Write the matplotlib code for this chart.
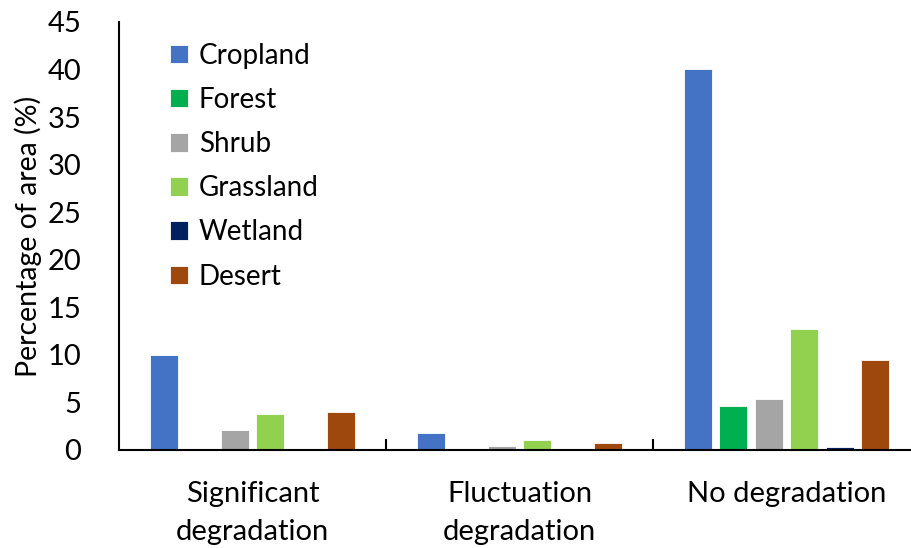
import numpy as np
import matplotlib.pyplot as plt

plt.rcParams['font.family'] = ['Lato', 'DejaVu Sans']

# Data
groups = ['Significant\ndegradation', 'Fluctuation\ndegradation', 'No degradation']
land_types = ['Cropland', 'Forest', 'Shrub', 'Grassland', 'Wetland', 'Desert']
cropland = [10.0, 1.8, 40.1]
forest = [0.05, 0.05, 4.6]
shrub = [2.1, 0.4, 5.4]
grassland = [3.8, 1.1, 12.7]
wetland = [0.02, 0.02, 0.3]
desert = [4.0, 0.7, 9.5]
colors = ['#4472C4', '#00B050', '#A5A5A5', '#92D050', '#002060', '#9E480E']

series = [cropland, forest, shrub, grassland, wetland, desert]

fig = plt.figure(figsize=(9.12, 5.48), dpi=100)
ax = fig.add_axes([119/912, 1-450/548, (920-119)/912, (450-22)/548])

x = np.arange(len(groups))
step = 0.133
width = 0.104
for i, (vals, name, c) in enumerate(zip(series, land_types, colors)):
    ax.bar(x + (i - 2.5) * step, vals, width, color=c, label=name,
           edgecolor='white', linewidth=0.6)

ax.set_xlim(-0.5, 2.5)
ax.set_ylim(0, 45)
ax.set_yticks(range(0, 46, 5))
ax.set_xticks(x)
ax.set_xticklabels(groups, fontsize=21, linespacing=1.6)
ax.tick_params(axis='x', length=0, pad=22)
ax.tick_params(axis='y', labelsize=21, length=0, pad=27)
# category boundary ticks
ax.set_xticks([0.5, 1.5], minor=True)
ax.tick_params(axis='x', which='minor', length=8, width=1.5, direction='in')

for s in ['top', 'right']:
    ax.spines[s].set_visible(False)
ax.spines['left'].set_linewidth(1.5)
ax.spines['bottom'].set_linewidth(1.5)

ax.set_ylabel('Percentage of area (%)', fontsize=20.5, labelpad=4)

ax.legend(loc='upper left', bbox_to_anchor=(0.032, 1.01), frameon=False,
          fontsize=20, handlelength=0.65, handleheight=0.65, handletextpad=0.4,
          labelspacing=0.655)

plt.savefig('out.png', dpi=100)
